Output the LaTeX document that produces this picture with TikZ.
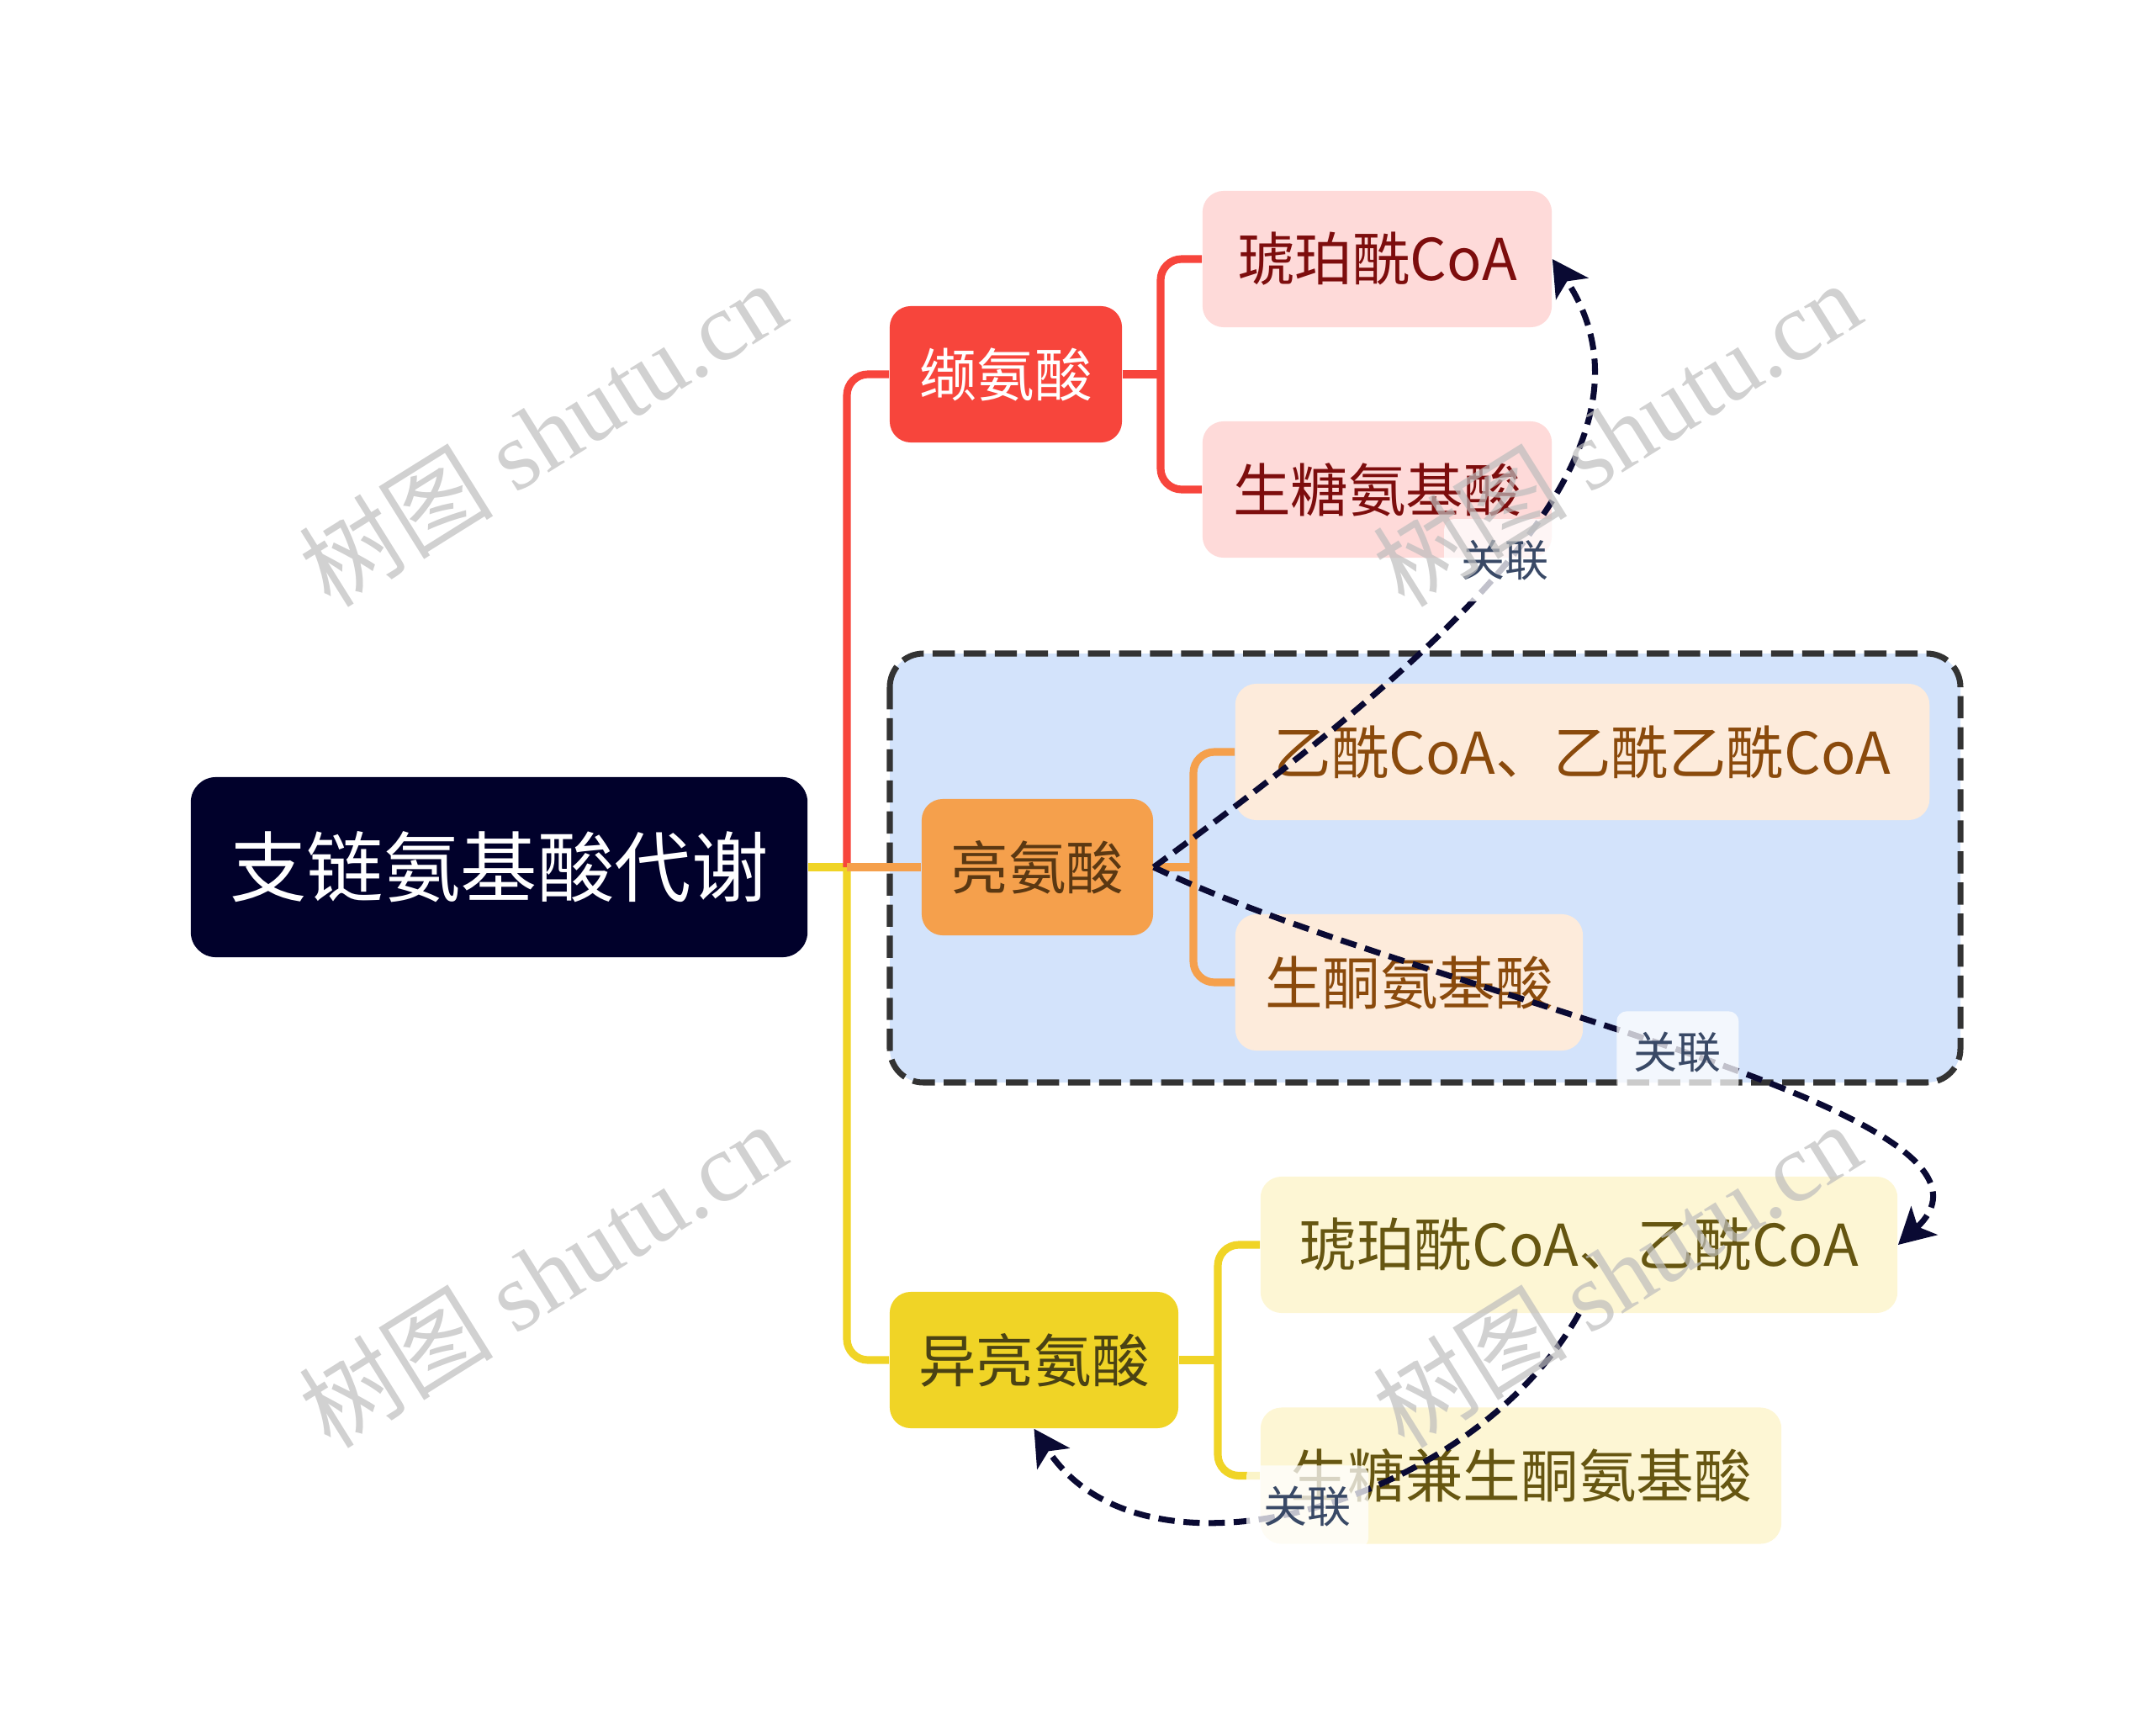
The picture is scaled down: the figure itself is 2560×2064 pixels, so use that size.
\documentclass[tikz,border=0pt]{standalone}
\usepackage{fontspec}
\setmainfont{Noto Sans CJK SC}
\newfontfamily\wmserif{Liberation Serif}
\usetikzlibrary{arrows.meta}
\definecolor{rootc}{HTML}{01012B}
\definecolor{redc}{HTML}{F7453C}
\definecolor{pinkc}{HTML}{FEDAD9}
\definecolor{pinktxt}{HTML}{7D0D0D}
\definecolor{orangec}{HTML}{F5A04C}
\definecolor{leutxt}{HTML}{5B3812}
\definecolor{orangel}{HTML}{FDEBDB}
\definecolor{orangetxt}{HTML}{8A4A0C}
\definecolor{yellowc}{HTML}{F0D426}
\definecolor{isotxt}{HTML}{4A4214}
\definecolor{yellowl}{HTML}{FDF6D4}
\definecolor{yellowtxt}{HTML}{665611}
\definecolor{groupc}{HTML}{D3E3FB}
\definecolor{groupb}{HTML}{333333}
\definecolor{relc}{HTML}{0A0A33}
\definecolor{lbltxt}{HTML}{394966}
\definecolor{wmc}{HTML}{BDBDBD}
\begin{document}
\begin{tikzpicture}[x=0.01cm,y=-0.01cm,
  box/.style={rectangle, rounded corners=0.25cm, minimum height=1.62cm, inner sep=0pt, align=center,
    font=\fontsize{19.5pt}{23pt}\selectfont},
  rootbox/.style={box, fill=rootc, text=white, minimum width=7.33cm, minimum height=2.14cm,
    rounded corners=0.3cm, font=\fontsize{26pt}{30pt}\selectfont},
  valbox/.style={box, fill=redc, text=white},
  pinkbox/.style={box, fill=pinkc, text=pinktxt},
  leubox/.style={box, fill=orangec, text=leutxt},
  orbox/.style={box, fill=orangel, text=orangetxt},
  isobox/.style={box, fill=yellowc, text=isotxt},
  yebox/.style={box, fill=yellowl, text=yellowtxt},
  conn/.style={line width=2.6pt, rounded corners=0.25cm},
  rel/.style={draw=relc, line width=2pt, dash pattern=on 5.5pt off 3pt,
    -{Stealth[length=12pt,width=13pt,inset=3pt]}},
  lbl/.style={fill=white, fill opacity=0.75, text opacity=1, text=lbltxt, rounded corners=0.12cm,
    minimum width=1.45cm, minimum height=0.98cm, inner sep=0pt,
    font=\fontsize{14.8pt}{17pt}\selectfont},
  wm/.style={rotate=32, text=wmc, text opacity=0.7, font=\fontsize{33pt}{38pt}\selectfont}
]
\useasboundingbox (0,0) rectangle (2560,2064);
% group background
\path[fill=groupc, draw=groupb, line width=2pt, dash pattern=on 7.5pt off 3pt, rounded corners=0.4cm]
  (1058,777) rectangle (2331,1287);
% nodes
\node[rootbox] (root) at (593.5,1031) {支链氨基酸代谢};
\node[valbox, minimum width=2.76cm] (val) at (1196,445) {缬氨酸};
\node[pinkbox, minimum width=4.15cm] (vsuc) at (1637.5,308) {琥珀酰CoA};
\node[pinkbox, minimum width=4.15cm] (vgly) at (1637.5,582) {生糖氨基酸};
\node[leubox, minimum width=2.75cm] (leu) at (1233.5,1031) {亮氨酸};
\node[orbox, minimum width=8.25cm] (lace) at (1881.5,894) {乙酰CoA、乙酰乙酰CoA};
\node[orbox, minimum width=4.13cm] (lket) at (1675.5,1168) {生酮氨基酸};
\node[isobox, minimum width=3.43cm] (iso) at (1229.5,1617) {异亮氨酸};
\node[yebox, minimum width=7.57cm] (isuc) at (1877.5,1480) {琥珀酰CoA、乙酰CoA};
\node[yebox, minimum width=6.19cm] (iboth) at (1808.5,1754.5) {生糖兼生酮氨基酸};
\coordinate (hub) at (1007,1031);
\coordinate (vj) at (1380,445);
\coordinate (lj) at (1419,1031);
\coordinate (ij) at (1448,1617);
% connectors
\draw[conn, draw=yellowc] (root.east) -- (hub);
\draw[conn, draw=yellowc] (hub) |- (iso.west);
\draw[conn, draw=redc] (hub) |- (val.west);
\draw[conn, draw=orangec] (hub) -- (leu.west);
\draw[conn, draw=redc] (val.east) -- (vj);
\draw[conn, draw=redc] (vj) |- (vsuc.west);
\draw[conn, draw=redc] (vj) |- (vgly.west);
\draw[conn, draw=orangec] (leu.east) -- (lj);
\draw[conn, draw=orangec] (lj) |- (lace.west);
\draw[conn, draw=orangec] (lj) |- (lket.west);
\draw[conn, draw=yellowc] (iso.east) -- (ij);
\draw[conn, draw=yellowc] (ij) |- (isuc.west);
\draw[conn, draw=yellowc] (ij) |- (iboth.west);
% relations
\draw[rel] (leu.east) .. controls (1700,790) and (2000,540) .. (vsuc.east)
  node[lbl, pos=0.5] (l1) {关联};
\draw[rel] (leu.east) .. controls (1680,1180) and (2430,1320) .. (isuc.east)
  node[lbl, pos=0.5] (l2) {关联};
\draw[rel] (isuc.south) .. controls (1750,1790) and (1360,1900) .. (iso.south)
  node[lbl, pos=0.5] (l3) {关联};
% watermarks
\node[wm] (wm1) at (645,515) {树图 {\wmserif shutu.cn}};
\node[wm] (wm2) at (1922,515) {树图 {\wmserif shutu.cn}};
\node[wm] (wm3) at (645,1515) {树图 {\wmserif shutu.cn}};
\node[wm] (wm4) at (1922,1515) {树图 {\wmserif shutu.cn}};
\end{tikzpicture}
\end{document}
